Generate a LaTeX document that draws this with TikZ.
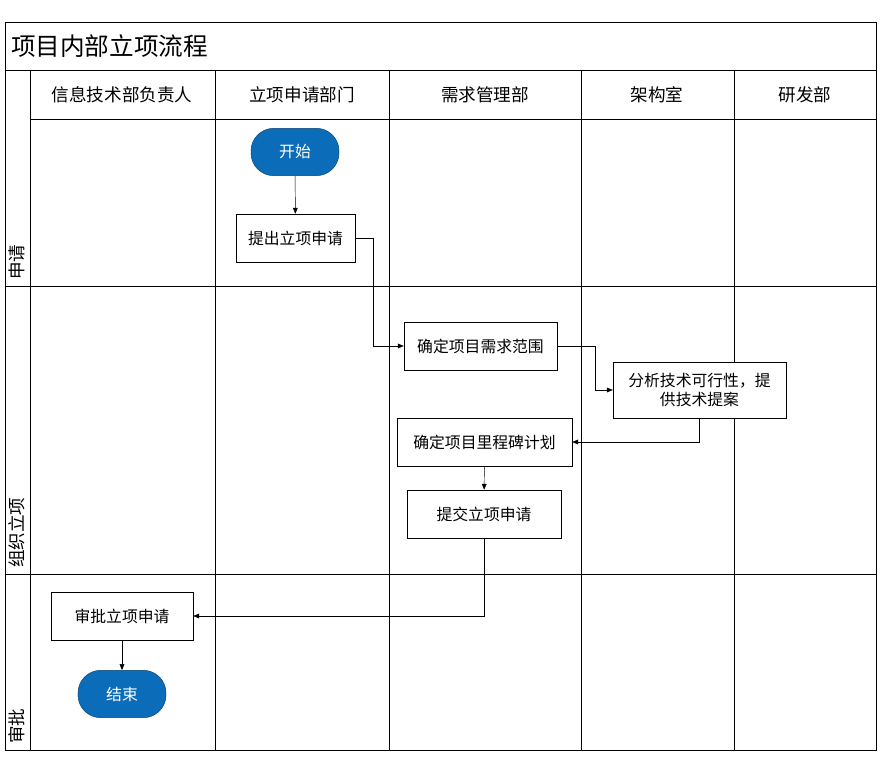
\documentclass[tikz,border=0pt]{standalone}
\usepackage{fontspec}
\setmainfont{Noto Sans CJK SC}
\usetikzlibrary{arrows.meta}
\definecolor{startblue}{HTML}{0B6CB9}
\tikzset{
  stepbox/.style={draw, thin, fill=white, align=center, inner sep=2pt, font=\fontsize{13.5}{17}\selectfont},
  termbox/.style={draw=startblue!60!black, fill=startblue, text=white, rounded corners=0.68cm, minimum width=2.64cm, minimum height=1.42cm, font=\fontsize{13.5}{17}\selectfont},
  flow/.style={thin, black, -{Triangle[length=5pt,width=4pt]}},
  head/.style={font=\fontsize{15}{18}\selectfont},
  lane/.style={font=\fontsize{15}{18}\selectfont, rotate=90, anchor=west}
}
\begin{document}
\begin{tikzpicture}[x=0.03cm, y=-0.03cm]
  \useasboundingbox[fill=white] (0,0) rectangle (893,766);
  % frame and grid
  \draw[thin] (5,22) rectangle (876,750);
  \draw[thin] (5,70) -- (876,70);
  \draw[thin] (30,119) -- (876,119);
  \draw[thin] (5,286) -- (876,286);
  \draw[thin] (5,574) -- (876,574);
  \draw[thin] (30,70) -- (30,750);
  \foreach \x in {215,389,581,734}
    \draw[thin] (\x,70) -- (\x,750);
  \node[anchor=west, font=\fontsize{21}{25}\selectfont] (title) at (7,46) {项目内部立项流程};
  % lane heads
  \node[head] (h1) at (122,95) {信息技术部负责人};
  \node[head] (h2) at (302,95) {立项申请部门};
  \node[head] (h3) at (485,95) {需求管理部};
  \node[head] (h4) at (657,95) {架构室};
  \node[head] (h5) at (805,95) {研发部};
  \node[lane] (r1) at (17,284) {申请};
  \node[lane] (r2) at (17,572) {组织立项};
  \node[lane] (r3) at (17,748) {审批};
  % steps
  \node[termbox] (start) at (295,152) {开始};
  \node[stepbox, minimum width=3.57cm, minimum height=1.44cm] (propose) at (295.5,238) {提出立项申请};
  \node[stepbox, minimum width=4.59cm, minimum height=1.44cm] (scope) at (480.5,346) {确定项目需求范围};
  \node[stepbox, minimum width=5.19cm, minimum height=1.68cm] (tech) at (699.5,390) {分析技术可行性，提\\供技术提案};
  \node[stepbox, minimum width=5.25cm, minimum height=1.44cm] (plan) at (484.5,442) {确定项目里程碑计划};
  \node[stepbox, minimum width=4.62cm, minimum height=1.44cm] (submit) at (484,514) {提交立项申请};
  \node[stepbox, minimum width=4.26cm, minimum height=1.44cm] (approve) at (122,616) {审批立项申请};
  \node[termbox] (stop) at (122,694) {结束};
  % connectors
  \draw[flow] (start) -- (propose);
  \draw[flow] (propose.east) -- ++(18,0) |- (scope.west);
  \draw[flow] (scope.east) -- ++(38,0) |- (tech.west);
  \draw[flow] (tech.south) |- (plan.east);
  \draw[flow] (plan) -- (submit);
  \draw[flow] (submit.south) |- (approve.east);
  \draw[flow] (approve) -- (stop);
\end{tikzpicture}
\end{document}
